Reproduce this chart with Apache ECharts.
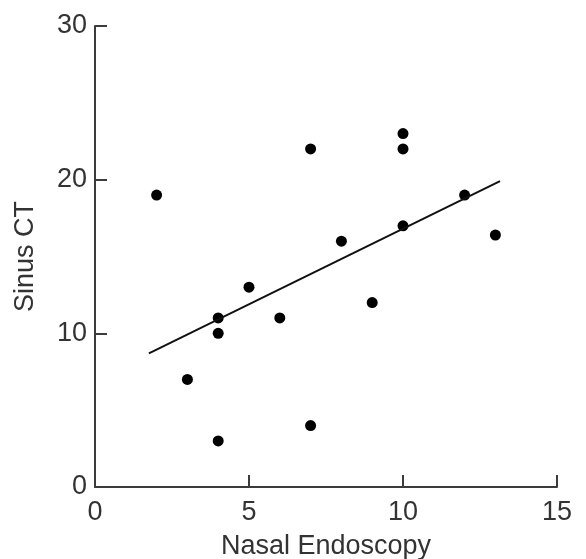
<!DOCTYPE html>
<html><head><meta charset="utf-8">
<script src="https://cdn.jsdelivr.net/npm/echarts@6/dist/echarts.min.js"></script>
<style>html,body{margin:0;padding:0;background:#fff}#c{width:586px;height:559px}</style>
</head><body><div id="c"></div>
<script>
const endoscopy = [2, 3, 4, 4, 4, 5, 6, 7, 7, 8, 9, 10, 10, 10, 12, 13];
const sinusCT   = [19, 7, 11, 10, 3, 13, 11, 22, 4, 16, 12, 23, 22, 17, 19, 16.4];
const fitX = [1.75, 13.15];
const fitY = [8.7, 19.9];
const xTicks = [0, 5, 10, 15];
const yTicks = [0, 10, 20, 30];

const chart = echarts.init(document.getElementById('c'));
const axisColor = '#3c3c3c';
const font = 'Liberation Sans, Arial, sans-serif';
chart.setOption({
  animation: false,
  grid: { left: 95, right: 29, top: 26, bottom: 72, containLabel: false, outerBoundsMode: 'none' },
  xAxis: {
    type: 'value', min: xTicks[0], max: xTicks[xTicks.length-1], interval: 5,
    name: 'Nasal Endoscopy', nameLocation: 'middle', nameGap: 46,
    nameTextStyle: { fontSize: 27, color: '#333', fontFamily: font },
    axisLine: { show: true, onZero: false, lineStyle: { color: axisColor, width: 2 } },
    axisTick: { show: true, inside: true, length: 12, lineStyle: { color: axisColor, width: 2 } },
    axisLabel: { fontSize: 27, color: '#333', fontFamily: font, margin: 12 },
    splitLine: { show: false }
  },
  yAxis: {
    type: 'value', min: yTicks[0], max: yTicks[yTicks.length-1], interval: 10,
    name: 'Sinus CT', nameLocation: 'middle', nameGap: 56,
    nameTextStyle: { fontSize: 27, color: '#333', fontFamily: font },
    axisLine: { show: true, onZero: false, lineStyle: { color: axisColor, width: 2 } },
    axisTick: { show: true, inside: true, length: 12, lineStyle: { color: axisColor, width: 2 } },
    axisLabel: { fontSize: 27, color: '#333', fontFamily: font, margin: 8 },
    splitLine: { show: false }
  },
  series: [
    {
      type: 'scatter', symbolSize: 11,
      itemStyle: { color: '#000', opacity: 1 },
      data: endoscopy.map((x, i) => [x, sinusCT[i]])
    },
    {
      type: 'line', showSymbol: false, symbol: 'none',
      lineStyle: { color: '#111', width: 2 },
      data: fitX.map((x, i) => [x, fitY[i]])
    }
  ]
});
</script></body></html>
